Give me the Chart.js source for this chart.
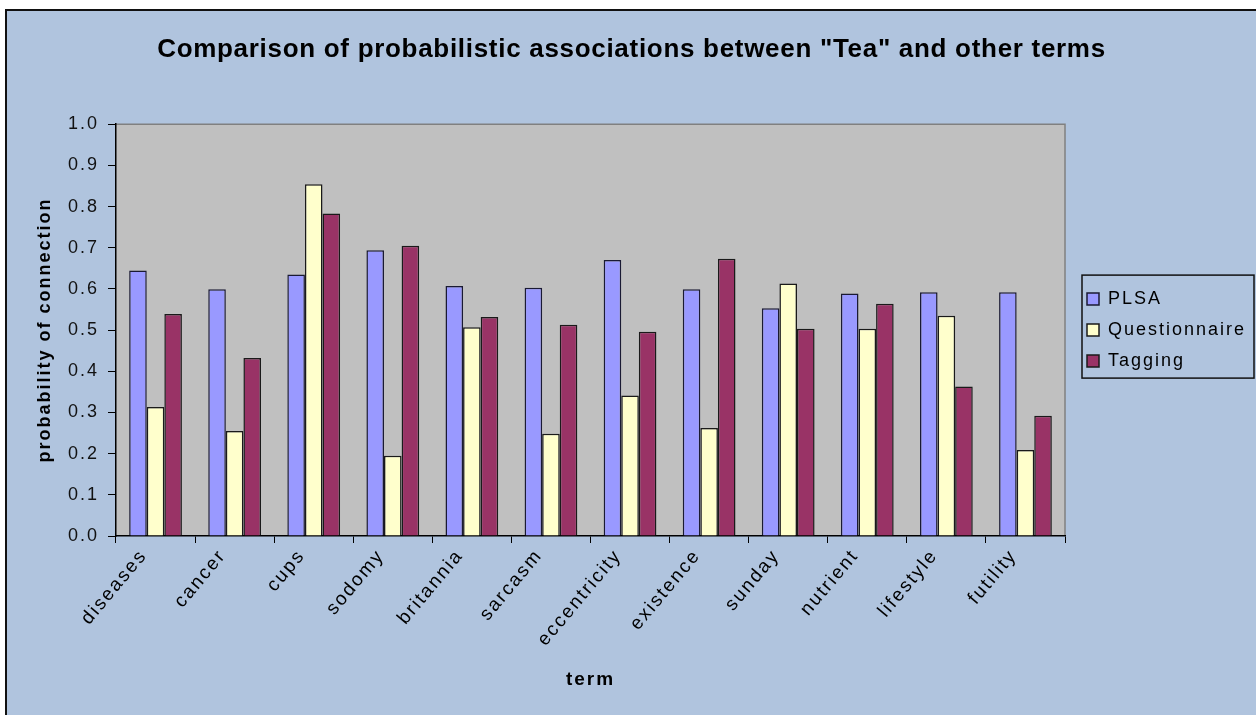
<!DOCTYPE html>
<html>
<head>
<meta charset="utf-8">
<script src="https://cdn.jsdelivr.net/npm/chart.js@4.4.1/dist/chart.umd.min.js"></script>
<style>
  html, body { margin: 0; padding: 0; background: #ffffff; }
  body { width: 1256px; height: 715px; overflow: hidden; position: relative; }
  #frame {
    position: absolute; left: 5px; top: 9px;
    width: 1249px; height: 704px;
    border-top: 2px solid #111; border-left: 2px solid #111;
    background: #b0c4de;
  }
  #chart { display: block; }
</style>
</head>
<body>
<div id="frame"><canvas id="chart" width="1249" height="704"></canvas></div>
<script>
const terms = ['diseases', 'cancer', 'cups', 'sodomy', 'britannia', 'sarcasm',
               'eccentricity', 'existence', 'sunday', 'nutrient', 'lifestyle', 'futility'];
const plsa =          [0.645, 0.599, 0.635, 0.694, 0.607, 0.603, 0.670, 0.599, 0.553, 0.589, 0.592, 0.592];
const questionnaire = [0.313, 0.255, 0.854, 0.195, 0.507, 0.248, 0.341, 0.262, 0.613, 0.503, 0.535, 0.209];
const tagging =       [0.539, 0.432, 0.783, 0.705, 0.532, 0.513, 0.496, 0.673, 0.503, 0.564, 0.363, 0.292];
const yTicks = [0.0, 0.1, 0.2, 0.3, 0.4, 0.5, 0.6, 0.7, 0.8, 0.9, 1.0];

const FONT = "Arial, 'Liberation Sans', sans-serif";
const LEGEND_WIDTH = 191;
const LEGEND_SHIFT = 9;
const TEXT_SPACING = '2px';
const TITLE_SPACING = '0.7px';

// Widely spaced lettering for the axis and legend text, tighter for the title;
// the legend gets a fixed-width column on the right
const textStyle = {
  id: 'textStyle',
  beforeInit(chart) {
    chart.ctx.letterSpacing = TEXT_SPACING;
    const lg = chart.legend;
    if (lg) {
      const fit = lg.fit.bind(lg);
      lg.fit = function () { fit(); this.width = LEGEND_WIDTH; };
    }
    const tb = chart.titleBlock;
    if (tb) {
      const draw = tb.draw.bind(tb);
      tb.draw = function (area) {
        const ctx = this.ctx;
        const prev = ctx.letterSpacing;
        ctx.letterSpacing = TITLE_SPACING;
        draw(area);
        ctx.letterSpacing = prev;
      };
    }
  },
  beforeUpdate(chart) { chart.ctx.letterSpacing = TEXT_SPACING; },
  afterLayout(chart) {
    const lg = chart.legend;
    if (lg) { lg.left += LEGEND_SHIFT; lg.right += LEGEND_SHIFT; }
  },
  beforeDraw(chart) { chart.ctx.letterSpacing = TEXT_SPACING; }
};

// Grey plot area with a darker edge on the top and right sides
const plotBackground = {
  id: 'plotBackground',
  beforeDraw(chart) {
    const { ctx, chartArea: a } = chart;
    ctx.save();
    ctx.fillStyle = '#c0c0c0';
    ctx.fillRect(a.left, a.top, a.right - a.left, a.bottom - a.top);
    ctx.strokeStyle = '#808080';
    ctx.lineWidth = 1.5;
    ctx.beginPath();
    ctx.moveTo(a.left, a.top);
    ctx.lineTo(a.right, a.top);
    ctx.lineTo(a.right, a.bottom);
    ctx.stroke();
    ctx.restore();
  }
};

// Box around the legend entries
const legendFrame = {
  id: 'legendFrame',
  afterDraw(chart) {
    const lg = chart.legend;
    if (!lg || !lg.legendHitBoxes || !lg.legendHitBoxes.length) return;
    const boxes = lg.legendHitBoxes;
    const first = boxes[0], last = boxes[boxes.length - 1];
    const left = first.left - 5;
    const top = first.top - 15;
    const bottom = last.top + last.height + 8;
    const right = left + 172;
    const ctx = chart.ctx;
    ctx.save();
    ctx.strokeStyle = '#111';
    ctx.lineWidth = 1.5;
    ctx.strokeRect(left, top, right - left, bottom - top);
    ctx.restore();
  }
};

new Chart(document.getElementById('chart'), {
  type: 'bar',
  data: {
    labels: terms,
    datasets: [
      { label: 'PLSA', data: plsa, backgroundColor: '#9999ff', borderColor: '#1a1a33', borderWidth: 1.5 },
      { label: 'Questionnaire', data: questionnaire, backgroundColor: '#ffffcc', borderColor: '#1a1a1a', borderWidth: 1.5 },
      { label: 'Tagging', data: tagging, backgroundColor: '#993366', borderColor: '#1a1a1a', borderWidth: 1.5 }
    ]
  },
  options: {
    responsive: false,
    animation: false,
    devicePixelRatio: 1,
    layout: { padding: { left: 0, top: 0, right: 0, bottom: 0 } },
    datasets: { bar: { categoryPercentage: 0.667, barPercentage: 1.0 } },
    plugins: {
      title: {
        display: true,
        text: 'Comparison of probabilistic associations between "Tea" and other terms',
        color: '#000',
        font: { family: FONT, size: 26, weight: 'bold' },
        padding: { top: 23, bottom: 59 }
      },
      legend: {
        display: true,
        position: 'right',
        align: 'center',
        fullSize: false,
        labels: {
          color: '#000',
          font: { family: FONT, size: 18 },
          boxWidth: 12,
          boxHeight: 12,
          padding: 13
        }
      },
      tooltip: { enabled: false }
    },
    scales: {
      x: {
        offset: true,
        grid: { display: true, drawOnChartArea: false, drawTicks: true, tickLength: 7, color: '#000', offset: true },
        border: { display: true, color: '#000', width: 1.5 },
        ticks: { color: '#000', font: { family: FONT, size: 19 }, minRotation: 50, maxRotation: 50, padding: 2, labelOffset: -12, autoSkip: false },
        title: { display: true, text: 'term', color: '#000', font: { family: FONT, size: 19, weight: 'bold' }, padding: { top: 24, bottom: 24 } },
        afterFit(scale) { scale.height = 179; }
      },
      y: {
        min: 0, max: 1,
        afterBuildTicks(scale) { scale.ticks = yTicks.map(v => ({ value: v })); },
        grid: { display: true, drawOnChartArea: false, drawTicks: true, tickLength: 8, color: '#000' },
        border: { display: true, color: '#000', width: 1.5 },
        ticks: { color: '#111', font: { family: FONT, size: 18 }, padding: 9, callback: v => Number(v).toFixed(1) },
        title: { display: true, text: 'probability of connection', color: '#000', font: { family: FONT, size: 18, weight: 'bold' }, padding: { top: 27, bottom: 27 } },
        afterFit(scale) { scale.width = 109; }
      }
    }
  },
  plugins: [textStyle, plotBackground, legendFrame]
});
</script>
</body>
</html>
